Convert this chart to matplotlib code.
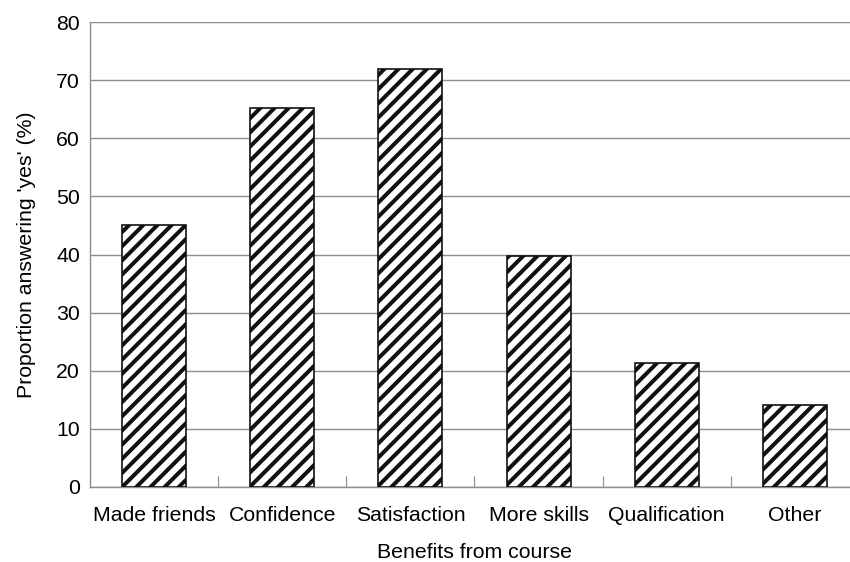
import matplotlib
matplotlib.use("Agg")
import matplotlib.pyplot as plt

categories = ["Made friends", "Confidence", "Satisfaction", "More skills",
              "Qualification", "Other"]
values = [45.1, 65.2, 71.9, 39.8, 21.3, 14.1]
yticks = [0, 10, 20, 30, 40, 50, 60, 70, 80]

DPI = 85
plt.rcParams["font.family"] = ["Liberation Sans", "DejaVu Sans"]
plt.rcParams["hatch.linewidth"] = 3.4

fig = plt.figure(figsize=(850 / DPI, 562 / DPI), dpi=DPI)
ax = fig.add_axes([90 / 850, 1 - 487 / 562, 769 / 850, 465 / 562])

x = list(range(len(categories)))
ax.bar(x, values, width=0.5, color="white", edgecolor="#111111",
       linewidth=1.4, hatch="//", zorder=3)

ax.set_xlim(-0.5, len(categories) - 0.5)
ax.set_ylim(0, 80)
ax.set_yticks(yticks)
ax.yaxis.grid(True, color="#8f8f8f", linewidth=1.2, zorder=0)
ax.set_axisbelow(True)

ax.set_xticks(x)
ax.set_xticklabels(categories)
ax.set_xticks([i + 0.5 for i in x[:-1]], minor=True)
ax.tick_params(axis="x", which="major", length=0, pad=16, labelsize=18)
ax.tick_params(axis="x", which="minor", direction="in", length=9.5,
               width=1, color="#8f8f8f")
ax.tick_params(axis="y", length=0, pad=8.5, labelsize=18)

for side in ["top", "right"]:
    ax.spines[side].set_visible(False)
for side in ["left", "bottom"]:
    ax.spines[side].set_color("#8f8f8f")
    ax.spines[side].set_linewidth(1.2)

ax.set_xlabel("Benefits from course", fontsize=18, labelpad=15)
ax.set_ylabel("Proportion answering 'yes' (%)", fontsize=18, labelpad=17)

fig.savefig("out.png", dpi=DPI)
